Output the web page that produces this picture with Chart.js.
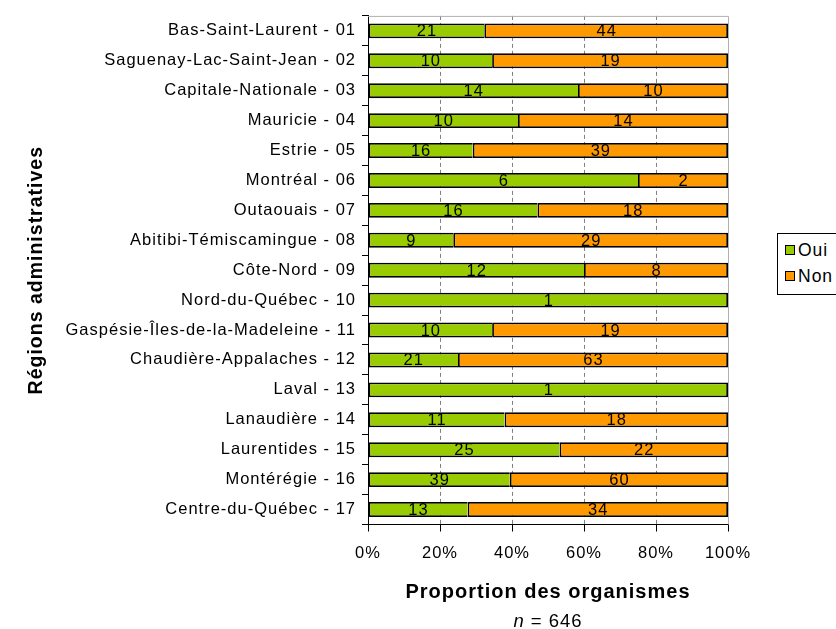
<!DOCTYPE html>
<html>
<head>
<meta charset="utf-8">
<script src="https://cdn.jsdelivr.net/npm/chart.js@4/dist/chart.umd.min.js"></script>
<style>
  html, body { margin: 0; padding: 0; background: #fff; }
  #wrap { position: relative; width: 836px; height: 629px; font-family: "Liberation Sans", Arial, sans-serif; }
  #legend { position: absolute; left: 777px; top: 233px; width: 80px; height: 62px; border: 1px solid #000; box-sizing: border-box; background: #fff; }
  .item { position: absolute; left: 7px; font-size: 17.5px; line-height: 20px; letter-spacing: 1px; color: #000; white-space: nowrap; }
  .sw { display: inline-block; width: 8px; height: 8px; border: 1px solid #000; margin-right: 3px; vertical-align: 1px; }
  #nline { position: absolute; left: 448px; width: 200px; top: 610px; text-align: center; font-size: 18.5px; letter-spacing: 1px; color: #000; }
</style>
</head>
<body>
<div id="wrap">
  <canvas id="c" width="836" height="629"></canvas>
  <div id="legend">
    <div class="item" style="top:6px"><span class="sw" style="background:#99CC00"></span>Oui</div>
    <div class="item" style="top:32px"><span class="sw" style="background:#FF9900"></span>Non</div>
  </div>
  <div id="nline"><i>n</i> = 646</div>
</div>
<script>
const categories = ["Bas-Saint-Laurent - 01", "Saguenay-Lac-Saint-Jean - 02", "Capitale-Nationale - 03", "Mauricie - 04", "Estrie - 05", "Montréal - 06", "Outaouais - 07", "Abitibi-Témiscamingue - 08", "Côte-Nord - 09", "Nord-du-Québec - 10", "Gaspésie-Îles-de-la-Madeleine - 11", "Chaudière-Appalaches - 12", "Laval - 13", "Lanaudière - 14", "Laurentides - 15", "Montérégie - 16", "Centre-du-Québec - 17"];
const ouiCounts = [21, 10, 14, 10, 16, 6, 16, 9, 12, 1, 10, 21, 1, 11, 25, 39, 13];
const nonCounts = [44, 19, 10, 14, 39, 2, 18, 29, 8, 0, 19, 63, 0, 18, 22, 60, 34];
const xTickValues = [0, 20, 40, 60, 80, 100];

const totals = ouiCounts.map((v, i) => v + nonCounts[i]);
const ouiPct = ouiCounts.map((v, i) => v / totals[i] * 100);
const nonPct = nonCounts.map((v, i) => v / totals[i] * 100);

const FONT = '"Liberation Sans", Arial, sans-serif';

const spacingPlugin = {
  id: 'spacing',
  beforeDraw(chart) { chart.ctx.letterSpacing = '1px'; }
};

const labelPlugin = {
  id: 'segLabels',
  afterDatasetsDraw(chart) {
    const ctx = chart.ctx;
    ctx.save();
    ctx.font = '16.5px ' + FONT;
    ctx.letterSpacing = '1px';
    ctx.fillStyle = '#000';
    ctx.textAlign = 'center';
    ctx.textBaseline = 'middle';
    chart.data.datasets.forEach((ds, di) => {
      const meta = chart.getDatasetMeta(di);
      meta.data.forEach((el, i) => {
        const c = ds.counts[i];
        if (!c) return;
        const p = el.getCenterPoint();
        ctx.fillText(String(c), p.x + 0.5, p.y + 1);
      });
    });
    ctx.restore();
  }
};

const framePlugin = {
  id: 'frame',
  beforeDatasetsDraw(chart) {
    const {ctx, chartArea: a} = chart;
    ctx.save();
    ctx.strokeStyle = '#b0b0b0';
    ctx.lineWidth = 1;
    ctx.beginPath();
    ctx.moveTo(a.left, a.top + 0.5);
    ctx.lineTo(a.right + 0.5, a.top + 0.5);
    ctx.lineTo(a.right + 0.5, a.bottom);
    ctx.stroke();
    ctx.restore();
  }
};

new Chart(document.getElementById('c'), {
  type: 'bar',
  data: {
    labels: categories,
    datasets: [
      { label: 'Oui', data: ouiPct, counts: ouiCounts, backgroundColor: '#99CC00', borderColor: '#000', borderWidth: 1.8,
        borderSkipped: ctx => (nonCounts[ctx.dataIndex] > 0 ? 'end' : false), barPercentage: 0.5, categoryPercentage: 1 },
      { label: 'Non', data: nonPct, counts: nonCounts, backgroundColor: '#FF9900', borderColor: '#000', borderWidth: 1.8, borderSkipped: false, barPercentage: 0.5, categoryPercentage: 1 }
    ]
  },
  options: {
    indexAxis: 'y',
    responsive: false,
    animation: false,
    layout: { padding: { left: 0, right: 108, top: 12, bottom: 0 } },
    plugins: { legend: { display: false }, tooltip: { enabled: false } },
    scales: {
      x: {
        stacked: true,
        min: 0, max: 100,
        afterBuildTicks(scale) { scale.ticks = xTickValues.map(v => ({ value: v })); },
        afterFit(scale) { scale.height = 104.5; },
        ticks: { callback: v => v + '%', color: '#000', font: { family: FONT, size: 16.5 }, padding: 12, maxRotation: 0 },
        grid: {
          color: ctx => (ctx.tick && (ctx.tick.value === 0 || ctx.tick.value === 100)) ? 'rgba(0,0,0,0)' : '#808080',
          tickColor: '#000',
          tickLength: 7,
          tickBorderDash: [],
          lineWidth: 1
        },
        border: { display: true, color: '#000', width: 1, dash: [4, 3] },
        title: { display: true, text: 'Proportion des organismes', color: '#000', font: { family: FONT, size: 20, weight: 'bold' }, padding: { top: 0, bottom: 25 } }
      },
      y: {
        stacked: true,
        afterFit(scale) { scale.width = 368; },
        ticks: { color: '#000', font: { family: FONT, size: 16.5 }, padding: 6 },
        grid: { drawOnChartArea: false, tickColor: '#000', tickLength: 6, offset: true },
        border: { display: true, color: '#000', width: 1 },
        title: { display: true, text: 'Régions administratives', color: '#000', font: { family: FONT, size: 19.5, weight: 'bold' }, padding: { top: 25, bottom: 0 } }
      }
    }
  },
  plugins: [spacingPlugin, framePlugin, labelPlugin]
});
</script>
</body>
</html>
